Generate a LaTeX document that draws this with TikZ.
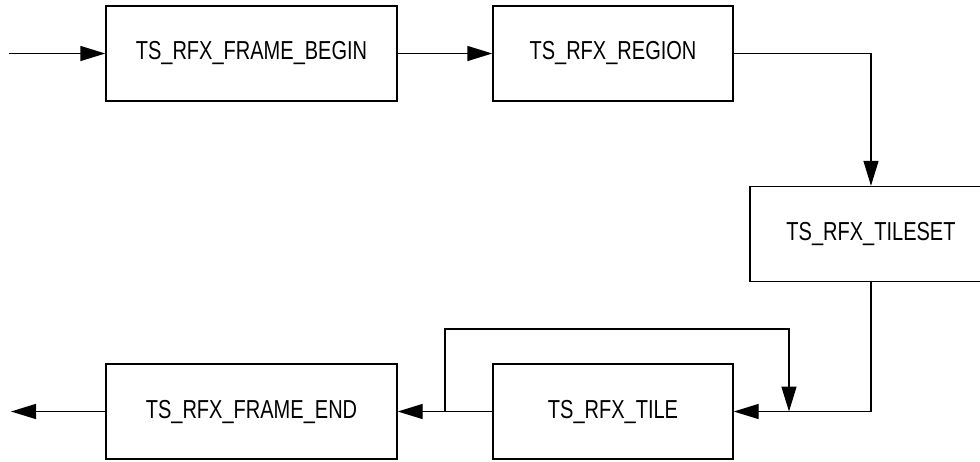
\documentclass[tikz,border=0pt]{standalone}
\usepackage{fontspec}
\newfontfamily\narrowsans[FakeStretch=0.77]{Liberation Sans}
\usetikzlibrary{arrows.meta}

\begin{document}
\begin{tikzpicture}[x=1pt, y=-1pt,
    blk/.style={draw, line width=1.4pt, minimum height=95pt, inner sep=0pt, font=\narrowsans\fontsize{26}{30}\selectfont},
    arr/.style={line width=1.4pt, -{Triangle[length=25pt, width=15pt]}}]
    \clip (0,0) rectangle (980,461);
    \foreach \n/\x/\y/\w/\t in {begin/251.5/53.5/291/TS\_RFX\_FRAME\_BEGIN,
        region/613/53.5/240/TS\_RFX\_REGION,
        tileset/871/234/242/TS\_RFX\_TILESET,
        tile/613/411.5/240/TS\_RFX\_TILE,
        fend/251.5/411.5/291/TS\_RFX\_FRAME\_END} {
        \node[blk, minimum width=\w pt] (\n) at (\x,\y) {\t};
    }
    \coordinate (in) at (9,53.5);
    \coordinate (out) at (11,411.5);
    \coordinate (loopL) at (445,411.5);
    \coordinate (loopR) at (789,411.5);
    \draw[arr] (in) -- (begin);
    \draw[arr] (begin) -- (region);
    \draw[arr] (region.east) -| (tileset.north);
    \draw[arr] (tileset.south) |- (tile.east);
    \draw[arr] (tile.west) -- (fend.east);
    \draw[arr] (loopL) -- ++(0,-82.5) -| (loopR);
    \draw[arr] (fend.west) -- (out);
\end{tikzpicture}
\end{document}
